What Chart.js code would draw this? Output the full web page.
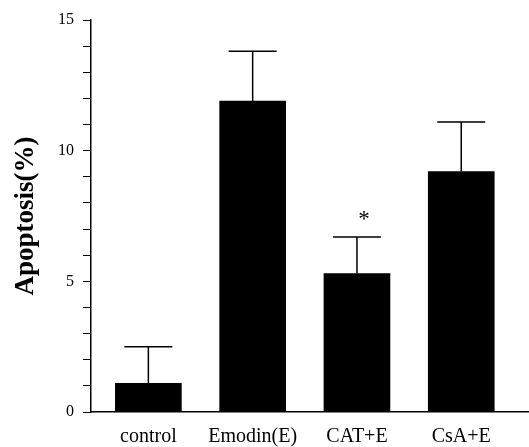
<!DOCTYPE html>
<html>
<head>
<meta charset="utf-8">
<script src="https://cdn.jsdelivr.net/npm/chart.js@4/dist/chart.umd.min.js"></script>
<style>
  html, body { margin: 0; padding: 0; background: #fff; }
  #wrap { width: 529px; height: 447px; }
</style>
</head>
<body>
<div id="wrap"><canvas id="apoChart" width="529" height="447"></canvas></div>
<script>
// valores
const categories = ["control", "Emodin(E)", "CAT+E", "CsA+E"];
const apoptosis = [1.1, 11.9, 5.3, 9.2];
const apoptosisSD = [1.4, 1.9, 1.4, 1.9];
const marks = ["", "", "*", ""];
const yTickLabels = [0, 5, 10, 15];

const serif = "'Liberation Serif', 'DejaVu Serif', serif";

// barras de erro + asterisco
const errorBars = {
    id: "errorBars",
    afterDatasetsDraw(chart) {
        const ctx = chart.ctx;
        const yScale = chart.scales.y;
        const meta = chart.getDatasetMeta(0);
        ctx.save();
        ctx.strokeStyle = "#000";
        ctx.lineWidth = 1.5;
        meta.data.forEach((bar, i) => {
            const top = yScale.getPixelForValue(apoptosis[i] + apoptosisSD[i]);
            ctx.beginPath();
            ctx.moveTo(bar.x, bar.y);
            ctx.lineTo(bar.x, top);
            ctx.moveTo(bar.x - 24, top);
            ctx.lineTo(bar.x + 24, top);
            ctx.stroke();
            if (marks[i]) {
                ctx.fillStyle = "#000";
                ctx.font = "23px " + serif;
                ctx.textAlign = "center";
                ctx.textBaseline = "middle";
                ctx.fillText(marks[i], bar.x + 7, top - 17);
            }
        });
        ctx.restore();
    }
};

const ctx = document.getElementById("apoChart").getContext("2d");
new Chart(ctx, {
    type: "bar",
    data: {
        datasets: [
            {
                data: categories.map((c, i) => ({ x: i, y: apoptosis[i] })),
                backgroundColor: "#000",
                borderWidth: 0,
                barThickness: 66,
            },
        ],
    },
    options: {
        responsive: false,
        animation: false,
        layout: { padding: { top: 20, right: 1, left: 0, bottom: 0 } },
        plugins: {
            legend: { display: false },
            tooltip: { enabled: false },
        },
        scales: {
            x: {
                type: "linear",
                offset: false,
                min: -0.55,
                max: 3.64,
                grid: { display: false },
                border: { display: true, color: "#000", width: 1.5 },
                ticks: {
                    stepSize: 1,
                    includeBounds: false,
                    autoSkip: false,
                    maxRotation: 0,
                    color: "#000",
                    padding: 5,
                    font: { family: serif, size: 20 },
                    callback: (v) => (Number.isInteger(v) && categories[v] ? categories[v] : ""),
                },
                afterFit: (scale) => { scale.height = 35; },
            },
            y: {
                min: 0,
                max: 15,
                grid: {
                    drawOnChartArea: false,
                    drawTicks: true,
                    tickLength: 8,
                    color: "#000",
                    lineWidth: 1,
                },
                border: { display: true, color: "#000", width: 1.5 },
                ticks: {
                    stepSize: 1,
                    autoSkip: false,
                    color: "#000",
                    padding: 9,
                    font: { family: serif, size: 16 },
                    callback: (v) => (yTickLabels.includes(v) ? v : ""),
                },
                title: {
                    display: true,
                    text: "Apoptosis(%)",
                    color: "#000",
                    font: { family: serif, size: 27, weight: "bold" },
                    padding: { top: 10, bottom: 0 },
                },
                afterFit: (scale) => { scale.width = 91; },
            },
        },
    },
    plugins: [errorBars],
});
</script>
</body>
</html>
